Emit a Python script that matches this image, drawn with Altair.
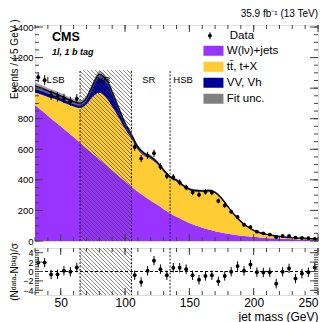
import numpy as np
import pandas as pd
import altair as alt

# ---------------- values ----------------
grid = list(range(30, 251, 5))  # model sampling points (GeV)
wjets = [890, 855, 820, 785, 750, 715, 680, 645, 607, 571, 535, 499, 463, 427, 391, 355,
         322, 292, 264, 238, 208, 182, 158, 138, 118, 101, 87, 75, 64, 55, 47, 41,
         35, 31, 27, 23, 20, 18, 16, 14, 12, 10, 9, 7, 6]
ttx = [80, 103, 122, 145, 164, 181, 200, 225, 286, 374, 435, 441, 417, 383, 341, 315,
       275, 265, 273, 265, 246, 228, 231, 219, 214, 222, 234, 248, 248, 219, 173, 127,
       89, 61, 40, 29, 21, 16, 12, 10, 9, 8, 7, 7, 6]
vv = [45, 42, 40, 38, 36, 34, 32, 32, 42, 75, 120, 120, 95, 60, 38, 25,
      18, 15, 13, 12, 11, 10, 9, 8, 8, 7, 7, 7, 6, 6, 5, 4,
      4, 3, 3, 2, 2, 2, 2, 1, 1, 1, 1, 1, 1]
fit_unc = [22, 20, 19, 18, 18, 17, 17, 17, 18, 20, 22, 22, 20, 18, 16, 15,
           13, 12, 12, 11, 10, 9, 9, 8, 8, 8, 8, 8, 8, 7, 6, 5,
           4, 3.5, 3, 2.5, 2.2, 2, 2, 2, 2, 2, 2, 2, 2]

data_mass = [32.5, 37.5, 42.5, 47.5, 52.5, 57.5, 62.5,
             107.5, 112.5, 117.5, 122.5, 127.5, 132.5, 137.5, 142.5, 147.5, 152.5,
             157.5, 162.5, 167.5, 172.5, 177.5, 182.5, 187.5, 192.5, 197.5, 202.5,
             207.5, 212.5, 217.5, 222.5, 227.5, 232.5, 237.5, 242.5, 247.5]
data_events = [1072, 1052, 953, 943, 933, 914, 931,
               615, 539, 560, 574, 486, 425, 418, 383, 350, 318,
               303, 321, 317, 262, 233, 192, 157, 106, 91, 61,
               50, 42, 25, 33, 33, 22, 20, 18, 14]
pulls = [1.9, 1.9, -0.65, -0.6, 0.15, -0.05, 0.85,
         -0.8, -2.25, 0.15, 2.3, 0.5, -0.8, 0.8, 0.8, 0.5, -0.8,
         -1.75, -0.95, -0.8, -2.1, -0.95, -0.05, 1.15, 0.15, 1.5, -0.15,
         -0.2, -0.15, -2.6, -0.05, 0.65, -1.5, -0.45, -0.15, 0.85]

region_edges = [30, 65, 105, 135, 250]
region_names = ["LSB", "VR", "SR", "HSB"]
blind_lo, blind_hi = 65, 105
region_top = 1118

proc_names = ["W(lν)+jets", "tt̄, t+X", "VV, Vh", "Fit unc."]
proc_colors = ["#9933FF", "#FFCC33", "#000099", "#808080"]

x_major = [50, 100, 150, 200, 250]
x_minor = list(range(30, 251, 10))
y_major = [0, 200, 400, 600, 800, 1000, 1200, 1400]
y_minor = list(range(0, 1401, 50))
r_major = [-4, -2, 0, 2, 4]
r_minor = [v / 2 for v in range(-9, 10)]

# ---------------- layout ----------------
W = 283
H1 = 216
H2 = 47
KY = 214 / 1400.0
YMAX = H1 / KY
FONT = "Liberation Sans"

xs = alt.Scale(domain=[30, 250], nice=False, zero=False)
ys = alt.Scale(domain=[0, YMAX], nice=False, zero=False)
rs = alt.Scale(domain=[-5, 5], nice=False, zero=False)

AX_MY = alt.Axis(values=y_major, format="d", ticks=False, domain=False,
                 labelFontSize=9.5, labelFont=FONT, labelPadding=2,
                 labelColor="black", grid=False,
                 title="Events / ( 5 GeV )", titleFont=FONT, titleFontSize=10,
                 titleFontWeight="normal", titleColor="black",
                 titleAnchor="end", titleY=-6, titleX=-16)
AX_RX = alt.Axis(values=x_major, ticks=False, domain=False, grid=False,
                 labelFont=FONT, labelFontSize=12, labelColor="black",
                 labelPadding=2, labelFlush=True,
                 title="jet mass (GeV)", titleFont=FONT, titleFontSize=12,
                 titleFontWeight="normal", titleColor="black",
                 titleAnchor="end", titlePadding=3)
AX_RY = alt.Axis(values=r_major, format="d", ticks=False, domain=False,
                 grid=False, labelFont=FONT, labelFontSize=9, labelColor="black",
                 labelPadding=2, title="(Nᵈᵃᵗᵃ-Nᵇᵏᵍ)/σ", titleFont=FONT,
                 titleFontSize=10, titleFontWeight="normal",
                 titleColor="black", titleX=-16)

# ---------------- frames ----------------
g = np.array(grid, dtype=float)
w = np.array(wjets, float)
t = np.array(ttx, float)
v = np.array(vv, float)
tot = w + t + v
u = np.array(fit_unc, float)

stack = pd.concat([
    pd.DataFrame({"m": g, "lo": 0 * w, "hi": w, "proc": proc_names[0]}),
    pd.DataFrame({"m": g, "lo": w, "hi": w + t, "proc": proc_names[1]}),
    pd.DataFrame({"m": g, "lo": w + t, "hi": tot, "proc": proc_names[2]}),
])
band = pd.DataFrame({"m": g, "lo": tot - u, "hi": tot + u, "proc": proc_names[3]})
totdf = pd.DataFrame({"m": g, "lo": tot})

dm = np.array(data_mass)
de = np.array(data_events, float)
derr = np.sqrt(de)
ddf = pd.DataFrame({"m": dm, "n": de, "lo": de - derr, "hi": de + derr, "lab": "Data"})
pdf = pd.DataFrame({"m": dm, "p": pulls, "lo": np.array(pulls) - 1, "hi": np.array(pulls) + 1})


def hatch(x0, x1, y0, y1, kx, ky, step=4.0):
    U = (x1 - x0) * kx
    V = (y1 - y0) * ky
    rows = []
    c = step / 2
    while c < U + V:
        ua = max(0.0, c - V)
        ub = min(U, c)
        rows.append({"m": x0 + ua / kx, "lo": y0 + (c - ua) / ky,
                     "xb": x0 + ub / kx, "hi": y0 + (c - ub) / ky})
        c += step
    return pd.DataFrame(rows)


KX = W / 220.0
hatch_main = hatch(blind_lo, blind_hi, 0, region_top, KX, KY)
hatch_ratio = hatch(blind_lo, blind_hi, -5, 5, KX, H2 / 10.0)


def XE(panel):
    return alt.X("m:Q", scale=xs, axis=None if panel == "main" else AX_RX)


def YE(panel, field="lo"):
    if panel == "main":
        return alt.Y(field + ":Q", scale=ys, axis=AX_MY)
    return alt.Y(field + ":Q", scale=rs, axis=AX_RY)


def ticks(vals, ch, length, panel, width, height):
    df = pd.DataFrame({"m": vals, "lo": vals})
    base = alt.Chart(df).mark_rule(color="#444", strokeWidth=1)
    if ch == "x":
        return [base.encode(x=XE(panel), y=alt.value(height), y2=alt.value(height - length)),
                base.encode(x=XE(panel), y=alt.value(0), y2=alt.value(length))]
    return [base.encode(y=YE(panel), x=alt.value(0), x2=alt.value(length)),
            base.encode(y=YE(panel), x=alt.value(width), x2=alt.value(width - length))]


RECT_PATH = "M-2,-1H2V1H-2Z"
DATA_PATH = ("M-0.15,-1H0.15V1H-0.15Z"
             "M-0.55,0A0.55,0.55 0 1,1 0.55,0A0.55,0.55 0 1,1 -0.55,0Z")

FILL = alt.Fill("proc:N", scale=alt.Scale(domain=proc_names, range=proc_colors),
                legend=alt.Legend(title=None, orient="none", legendX=172.7, legendY=20,
                                  symbolType=RECT_PATH, symbolSize=100,
                                  symbolStrokeWidth=0, labelFont=FONT,
                                  labelFontSize=11.5, labelColor="black",
                                  labelOffset=7.6, rowPadding=3, padding=0))

areas = alt.Chart(stack).mark_area(interpolate="monotone", opacity=1).encode(
    x=XE("main"), y=YE("main"), y2="hi:Q", fill=FILL, detail="proc:N")
band_l = alt.Chart(band).mark_area(interpolate="monotone", opacity=0.75).encode(
    x=XE("main"), y=YE("main"), y2="hi:Q", fill=FILL)
line_l = alt.Chart(totdf).mark_line(interpolate="monotone", color="#00002a",
                                     strokeWidth=1.4).encode(x=XE("main"), y=YE("main"))

hatch_l = alt.Chart(hatch_main).mark_rule(color="#333", strokeWidth=0.7, opacity=0.85).encode(
    x=XE("main"), x2="xb:Q", y=YE("main"), y2="hi:Q")

dash_df = pd.DataFrame({"m": region_edges[1:4], "lo": 0, "hi": region_top})
dash_l = alt.Chart(dash_df).mark_rule(color="#222", strokeWidth=1, strokeDash=[2, 1.5]).encode(
    x=XE("main"), y=YE("main"), y2="hi:Q")

err_l = alt.Chart(ddf).mark_rule(color="black", strokeWidth=1).encode(
    x=XE("main"), y=YE("main"), y2="hi:Q")
pts_l = alt.Chart(ddf).mark_circle(size=15, opacity=1).encode(
    x=XE("main"), y=YE("main", "n"),
    color=alt.Color("lab:N", scale=alt.Scale(domain=["Data"], range=["black"]),
                    legend=alt.Legend(title=None, orient="none", legendX=169.2, legendY=5,
                                      symbolType=DATA_PATH, symbolSize=49,
                                      labelFont=FONT, labelFontSize=11.5,
                                      labelColor="black", labelOffset=14.1, padding=0)))

# region labels: centred in their region, HSB just right of its left edge
reg_rows = []
for i, name in enumerate(region_names):
    lo, hi = region_edges[i], region_edges[i + 1]
    if name == "HSB":
        reg_rows.append({"m": lo + 2.5, "lab": name, "al": "left"})
    else:
        reg_rows.append({"m": (lo + hi) / 2 - 1.5, "lab": name, "al": "center"})
reg_df = pd.DataFrame(reg_rows)
reg_df["lo"] = 1053
reg_c = alt.Chart(reg_df[reg_df.al == "center"]).mark_text(
    font=FONT, fontSize=9.5, align="center", baseline="middle", color="black").encode(
    x=XE("main"), y=YE("main"), text="lab:N")
reg_l = alt.Chart(reg_df[reg_df.al == "left"]).mark_text(
    font=FONT, fontSize=9.5, align="left", baseline="middle", color="black").encode(
    x=XE("main"), y=YE("main"), text="lab:N")

cms = alt.Chart(pd.DataFrame({"t": ["CMS"]})).mark_text(
    font=FONT, fontSize=12.5, fontWeight="bold", align="left", baseline="alphabetic",
    color="black").encode(x=alt.value(17), y=alt.value(16), text="t:N")
cat = alt.Chart(pd.DataFrame({"t": ["1l, 1 b tag"]})).mark_text(
    font=FONT, fontSize=9, fontWeight="bold", fontStyle="italic", align="left",
    baseline="alphabetic", color="black").encode(x=alt.value(17), y=alt.value(29.5), text="t:N")

main_layers = [areas, band_l, line_l, hatch_l, dash_l, err_l, pts_l, reg_c, reg_l, cms, cat]
main_layers += ticks(x_major, "x", 7, "main", W, H1) + ticks(x_minor, "x", 4, "main", W, H1)
main_layers += ticks(y_major, "y", 8, "main", W, H1) + ticks(y_minor, "y", 4, "main", W, H1)

main = alt.layer(*main_layers).properties(
    width=W, height=H1,
    title=alt.TitleParams("35.9 fb⁻¹ (13 TeV)", anchor="end", frame="group", font=FONT,
                          fontSize=10, fontWeight="normal", color="black", offset=0))

# ---------------- ratio panel ----------------
rh_l = alt.Chart(hatch_ratio).mark_rule(color="#333", strokeWidth=0.7, opacity=0.85).encode(
    x=XE("ratio"), x2="xb:Q", y=YE("ratio"), y2="hi:Q")
zero_l = alt.Chart(pd.DataFrame({"lo": [0]})).mark_rule(
    color="black", strokeWidth=1, strokeDash=[3, 2]).encode(y=YE("ratio"))
rdash_l = alt.Chart(pd.DataFrame({"m": region_edges[1:4]})).mark_rule(
    color="#222", strokeWidth=1, strokeDash=[2, 1.5]).encode(x=XE("ratio"))
rerr_l = alt.Chart(pdf).mark_rule(color="black", strokeWidth=1).encode(
    x=XE("ratio"), y=YE("ratio"), y2="hi:Q")
rpts_l = alt.Chart(pdf).mark_circle(size=15, opacity=1, color="black").encode(
    x=XE("ratio"), y=YE("ratio", "p"))

ratio_layers = [rh_l, zero_l, rdash_l, rerr_l, rpts_l]
ratio_layers += ticks(x_major, "x", 7, "ratio", W, H2) + ticks(x_minor, "x", 4, "ratio", W, H2)
ratio_layers += ticks(r_major, "y", 8, "ratio", W, H2) + ticks(r_minor, "y", 4, "ratio", W, H2)
ratio = alt.layer(*ratio_layers).properties(width=W, height=H2)

chart = alt.vconcat(main, ratio, spacing=7, bounds="flush").properties(
    padding={"left": 0, "top": 0, "right": 0, "bottom": 0}
).configure_view(stroke="black", strokeWidth=1).configure(background="white")

chart.save("out.html", embed_options={"renderer": "svg", "actions": False})
